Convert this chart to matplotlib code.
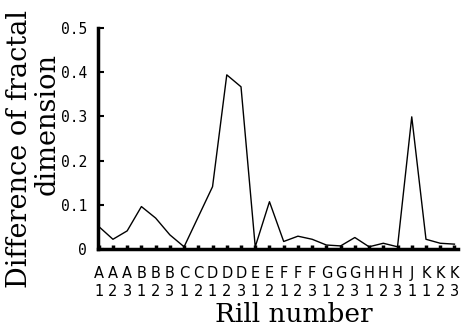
#!/usr/bin/env python3
"""Difference of fractal dimension per rill."""

import matplotlib
matplotlib.use("Agg")
import matplotlib.pyplot as plt
import numpy as np

RILLS = ["A1", "A2", "A3", "B1", "B2", "B3", "C1", "C2", "D1", "D2", "D3",
         "E1", "E2", "F1", "F2", "F3", "G1", "G2", "G3", "H1", "H2", "H3",
         "J1", "K1", "K2", "K3"]
DIFF = [0.051, 0.022, 0.041, 0.096, 0.070, 0.032, 0.005, 0.073, 0.141,
        0.394, 0.367, 0.005, 0.107, 0.017, 0.029, 0.022, 0.009, 0.007,
        0.026, 0.005, 0.013, 0.005, 0.299, 0.022, 0.013, 0.011]
Y_TICKS = [0, 0.1, 0.2, 0.3, 0.4, 0.5]
Y_LABELS = ["0", "0.1", "0.2", "0.3", "0.4", "0.5"]


def main() -> None:
    fig = plt.figure(figsize=(4.64, 3.28), dpi=100)
    ax = fig.add_axes([98 / 464, 79 / 328, 360 / 464, 221 / 328])

    x = np.arange(len(RILLS))
    ax.plot(x, DIFF, color="black", linewidth=1.0)

    ax.set_xlim(-0.05, len(RILLS) - 1 + 0.25)
    ax.set_ylim(0, 0.5)

    ax.set_xticks(x)
    ax.set_xticklabels([f"{r[0]}\n{r[1]}" for r in RILLS],
                       family="DejaVu Sans", fontsize=10.5, linespacing=1.3)
    ax.set_yticks(Y_TICKS)
    ax.set_yticklabels(Y_LABELS, family="DejaVu Sans Mono", fontsize=10.5)
    ax.tick_params(axis="x", direction="in", length=3, width=2.5, pad=12)
    ax.tick_params(axis="y", direction="in", length=4, width=1.5, pad=8)

    for side in ("top", "right"):
        ax.spines[side].set_visible(False)
    ax.spines["left"].set_linewidth(2.5)
    ax.spines["bottom"].set_linewidth(2.5)

    ax.set_xlabel("Rill number", family="DejaVu Serif", fontsize=19)
    ax.xaxis.set_label_coords((294 - 98) / 360, -(314 - 249) / 221)
    ax.xaxis.label.set_va("center")
    fig.text(20 / 464, 1 - 288 / 328, "Difference of fractal",
             family="DejaVu Serif", fontsize=19.5, rotation=90,
             ha="center", va="bottom")
    fig.text(47 / 464, 1 - 124 / 328, "dimension",
             family="DejaVu Serif", fontsize=19.5, rotation=90,
             ha="center", va="center")

    fig.savefig("out.png", dpi=100)
    plt.close(fig)


if __name__ == "__main__":
    main()
